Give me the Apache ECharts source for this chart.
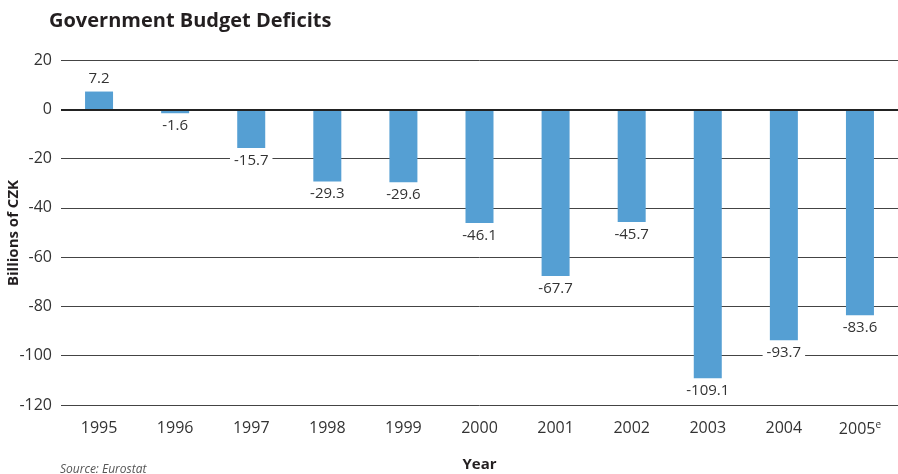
<!DOCTYPE html>
<html><head><meta charset="utf-8">
<script src="https://cdn.jsdelivr.net/npm/echarts@6/dist/echarts.min.js"></script>
<style>html,body{margin:0;padding:0;background:#fff}#c{width:898px;height:474px}</style>
</head><body><div id="c"></div>
<script>
const years = ['1995','1996','1997','1998','1999','2000','2001','2002','2003','2004','2005'];
const deficits = [7.2, -1.6, -15.7, -29.3, -29.6, -46.1, -67.7, -45.7, -109.1, -93.7, -83.6];
const yTicks = [20, 0, -20, -40, -60, -80, -100, -120];
const estimatedYears = ['2005'];

const FONT = '"Open Sans", "Noto Sans", sans-serif';
const chart = echarts.init(document.getElementById('c'));
chart.setOption({
  animation: false,
  textStyle: {fontFamily: FONT},
  title: {
    text: 'Government Budget Deficits', left: 44, top: 6,
    textStyle: {fontSize: 20, fontWeight: 'bold', color: '#231f20', fontFamily: FONT}
  },
  graphic: [
    {type: 'text', left: 60, top: 464, style: {text: 'Source: Eurostat', font: 'italic 12px ' + FONT, fill: '#555'}},
    {type: 'text', x: 14, y: 233, rotation: Math.PI / 2,
     style: {text: 'Billions of CZK', font: 'bold 15px ' + FONT, fill: '#231f20', align: 'center', verticalAlign: 'middle'}}
  ],
  grid: {left: 61, right: 0, top: 60, height: 345, containLabel: false, outerBoundsMode: 'none'},
  xAxis: {
    type: 'category', data: years,
    name: 'Year', nameLocation: 'middle', nameGap: 52,
    nameTextStyle: {fontSize: 15, fontWeight: 'bold', color: '#231f20'},
    axisLine: {show: false}, axisTick: {show: false},
    axisLabel: {
      interval: 0, fontSize: 16, color: '#333', margin: 15,
      formatter: v => estimatedYears.includes(v) ? v + '{sup|e}' : v,
      rich: {sup: {fontSize: 10, color: '#333', verticalAlign: 'top', padding: [0, 0, 8, 0]}}
    }
  },
  yAxis: {
    type: 'value', min: -120, max: 20, interval: 20,
    axisLine: {show: false}, axisTick: {show: false},
    axisLabel: {fontSize: 16, color: '#333', margin: 9,
      formatter: v => yTicks.includes(v) ? String(v) : ''},
    splitLine: {lineStyle: {color: '#444', width: 1}}
  },
  series: [{
    type: 'bar', barWidth: 28,
    data: deficits.map(v => ({value: v, label: {position: v < 0 ? 'bottom' : 'top'}})),
    itemStyle: {color: '#559fd3'},
    label: {
      show: true, fontSize: 15, color: '#333', backgroundColor: '#fff',
      padding: [1, 4], distance: 4,
      formatter: p => String(p.value)
    },
    markLine: {
      silent: true, symbol: 'none', label: {show: false},
      lineStyle: {color: '#222', width: 2, type: 'solid'},
      data: [{yAxis: 0}]
    }
  }]
});
</script></body></html>
